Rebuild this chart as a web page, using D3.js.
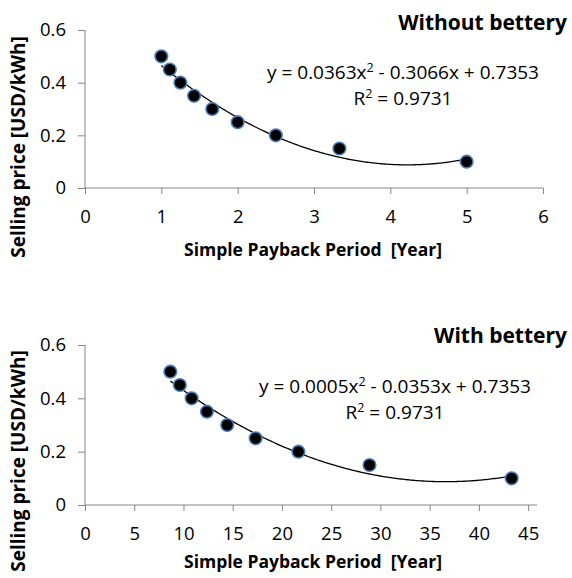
<!DOCTYPE html>
<html><head><meta charset="utf-8">
<script src="https://cdn.jsdelivr.net/npm/d3@7"></script>
<style>body{margin:0;background:#fff}svg{display:block}text{font-family:"Open Sans",sans-serif;fill:#000}</style>
</head><body><svg id="c" width="572" height="578"></svg>
<script>
// Data
const priceValues = [0.5, 0.45, 0.4, 0.35, 0.3, 0.25, 0.2, 0.15, 0.1];
const paybackWithout = [1.0, 1.111, 1.25, 1.429, 1.667, 2.0, 2.5, 3.333, 5.0];
const paybackWith = [8.667, 9.63, 10.83, 12.38, 14.44, 17.33, 21.67, 28.89, 43.33];
const trendWithout = [0.0363, -0.3066, 0.7353];
const trendWith = [0.000483, -0.03538, 0.7353];
const yTicks = [0, 0.2, 0.4, 0.6];
const xTicksWithout = [0, 1, 2, 3, 4, 5, 6];
const xTicksWith = [0, 5, 10, 15, 20, 25, 30, 35, 40, 45];
const titles = ["Without bettery", "With bettery"];
const eqWithout = ["y = 0.0363x", "2", " - 0.3066x + 0.7353"];
const eqWith = ["y = 0.0005x", "2", " - 0.0353x + 0.7353"];
const r2Text = "0.9731";

const svg = d3.select("#c");
const fmtY = d => d === 0 ? "0" : d3.format(".1f")(d);

function panel(cfg) {
  const g = svg.append("g");
  const x = d3.scaleLinear().domain(cfg.xDomain).range([85, cfg.xRight]);
  const y = d3.scaleLinear().domain([0, 0.6]).range([cfg.y0, cfg.y06]);
  const axisColor = "#868686";
  // y axis
  const ya = g.append("g").attr("transform", `translate(85,0)`)
    .call(d3.axisLeft(y).tickValues(yTicks).tickFormat(fmtY).tickSize(7).tickPadding(12));
  ya.select(".domain").attr("stroke", axisColor).attr("d", `M-0,${cfg.y0}V${cfg.y06}`);
  ya.selectAll(".tick line").attr("stroke", axisColor);
  ya.selectAll(".tick text").style("font-size", "18.5px").attr("fill", "#000");
  // x axis
  const xa = g.append("g").attr("transform", `translate(0,${cfg.y0})`)
    .call(d3.axisBottom(x).tickValues(cfg.xTicks).tickFormat(d3.format("d")).tickSize(6).tickPadding(16));
  xa.select(".domain").attr("stroke", axisColor).attr("d", `M85,0H${cfg.xRight}`);
  xa.selectAll(".tick line").attr("stroke", axisColor);
  xa.selectAll(".tick text").style("font-size", "18.5px").attr("fill", "#000");
  // trendline
  const [a, b, c] = cfg.trend;
  const xs = d3.range(0, 201).map(i => cfg.xs[0] + (cfg.xs[cfg.xs.length - 1] - cfg.xs[0]) * i / 200);
  g.append("path").datum(xs)
    .attr("d", d3.line().x(d => x(d)).y(d => y(a * d * d + b * d + c)))
    .attr("fill", "none").attr("stroke", "#000").attr("stroke-width", 1.3);
  // points
  g.selectAll("circle.pt").data(cfg.xs).join("circle")
    .attr("cx", d => x(d)).attr("cy", (d, i) => y(priceValues[i])).attr("r", 6.3)
    .attr("fill", "#000").attr("stroke", "#4a7ebb").attr("stroke-width", 1.6);
  // title
  g.append("text").attr("x", 567).attr("y", cfg.titleY).attr("text-anchor", "end")
    .style("font-size", "21px").style("font-weight", "bold").text(cfg.title);
  // equation
  const eq = g.append("text").attr("x", cfg.eqCx).attr("y", cfg.eqY).attr("text-anchor", "middle").style("font-size", "19px");
  eq.append("tspan").text(cfg.eq[0]);
  eq.append("tspan").attr("dy", -7).style("font-size", "12.5px").text(cfg.eq[1]);
  eq.append("tspan").attr("dy", 7).text(cfg.eq[2]);
  const r2 = g.append("text").attr("x", cfg.eqCx).attr("y", cfg.eqY + 26).attr("text-anchor", "middle").style("font-size", "19px");
  r2.append("tspan").text("R");
  r2.append("tspan").attr("dy", -7).style("font-size", "12.5px").text("2");
  r2.append("tspan").attr("dy", 7).text(" = " + r2Text);
  // axis titles
  g.append("text").attr("x", 313).attr("y", cfg.xLabY).attr("text-anchor", "middle")
    .style("font-size", "17.5px").style("font-weight", "bold").style("white-space", "pre")
    .text("Simple Payback Period  [Year]");
  g.append("text").attr("transform", `translate(25,${cfg.yLabCy}) rotate(-90)`).attr("text-anchor", "middle")
    .style("font-size", "19px").style("font-weight", "bold").text("Selling price [USD/kWh]");
}

panel({xDomain: [0, 6], xRight: 543, xTicks: xTicksWithout, y0: 188, y06: 30, trend: trendWithout,
  xs: paybackWithout, title: titles[0], titleY: 30, eq: eqWithout, eqCx: 403, eqY: 79,
  xLabY: 256, yLabCy: 147});
panel({xDomain: [0, 45.9], xRight: 537, xTicks: xTicksWith, y0: 505, y06: 345, trend: trendWith,
  xs: paybackWith, title: titles[1], titleY: 343, eq: eqWith, eqCx: 395, eqY: 393,
  xLabY: 568, yLabCy: 461});
</script></body></html>
